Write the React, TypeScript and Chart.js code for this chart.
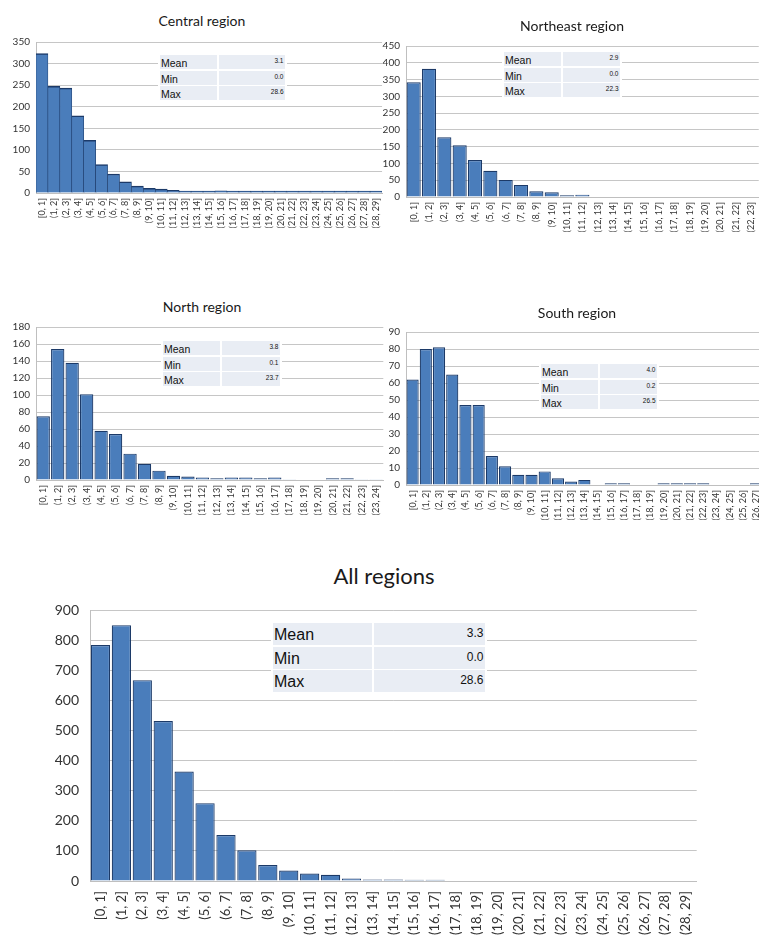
import React, { useEffect, useRef } from "react";
import { Chart, registerables } from "chart.js";

Chart.register(...registerables);

const binLabels = [
  "[0, 1]", "(1, 2]", "(2, 3]", "(3, 4]", "(4, 5]", "(5, 6]", "(6, 7]", "(7, 8]", "(8, 9]", "(9, 10]",
  "(10, 11]", "(11, 12]", "(12, 13]", "(13, 14]", "(14, 15]", "(15, 16]", "(16, 17]", "(17, 18]", "(18, 19]", "(19, 20]",
  "(20, 21]", "(21, 22]", "(22, 23]", "(23, 24]", "(24, 25]", "(25, 26]", "(26, 27]", "(27, 28]", "(28, 29]",
];

const centralValues = [323, 247, 243, 179, 122, 66, 44, 26, 16, 11, 9, 6, 4, 2, 1, 5, 3, 3, 3, 3, 1, 1, 1, 1, 1, 1, 1, 1, 1];
const northeastValues = [342, 382, 178, 154, 110, 78, 51, 36, 17, 14, 5, 7, 0, 0, 0, 0, 0, 0, 0, 0, 0, 0, 0];
const northValues = [75, 154, 138, 101, 58, 54, 31, 19, 11, 5, 4, 3, 2, 3, 3, 2, 3, 1, 0, 0, 2, 2, 1, 1];
const southValues = [62, 80, 81, 65, 47, 47, 17, 11, 6, 6, 8, 4, 2, 3, 0, 1, 1, 0, 0, 1, 1, 1, 1, 0, 0, 0, 1];
const allValues = [785, 851, 668, 532, 364, 259, 153, 102, 53, 35, 25, 21, 8, 5, 5, 4, 4, 0, 0, 0, 0, 0, 0, 0, 0, 0, 0, 0, 0];

const statNames = ["Mean", "Min", "Max"];
const centralStats = ["3.1", "0.0", "28.6"];
const northeastStats = ["2.9", "0.0", "22.3"];
const northStats = ["3.8", "0.1", "23.7"];
const southStats = ["4.0", "0.2", "26.5"];
const allStats = ["3.3", "0.0", "28.6"];

type HistProps = {
  labels: string[];
  values: number[];
  left: number;
  top: number;
  width: number;
  height: number;
  yW: number;
  padTop: number;
  padRight: number;
  xH: number;
  max: number;
  step: number;
  yFont: number;
  xFont: number;
  yPad: number;
  xPad: number;
  barPct: number;
  contiguous?: boolean;
};

function Hist(p: HistProps) {
  const ref = useRef<HTMLCanvasElement>(null);
  useEffect(() => {
    const chart = new Chart(ref.current!, {
      type: "bar",
      data: {
        labels: p.labels,
        datasets: [
          {
            data: p.values,
            backgroundColor: "#4a7dbb",
            borderColor: "#1c3a68",
            borderWidth: p.contiguous ? { top: 1.5, left: 0.6, right: 0.6, bottom: 0 } : 1.2,
            borderSkipped: "bottom",
            barPercentage: p.barPct,
            categoryPercentage: 1,
            minBarLength: p.contiguous ? 2 : 0,
          },
        ],
      },
      options: {
        responsive: false,
        maintainAspectRatio: false,
        animation: false,
        layout: { padding: { top: p.padTop, right: p.padRight, left: 0, bottom: 0 } },
        plugins: {
          legend: { display: false },
          tooltip: { enabled: false },
          title: { display: false },
        },
        scales: {
          x: {
            grid: { display: false, drawTicks: false },
            border: { display: true, color: "#bfbfbf" },
            ticks: {
              autoSkip: false,
              maxRotation: 90,
              minRotation: 90,
              padding: p.xPad,
              color: "#333333",
              font: { family: "Lato", size: p.xFont },
            },
            afterFit: (s: any) => {
              s.height = p.xH;
            },
          },
          y: {
            min: 0,
            max: p.max,
            ticks: {
              stepSize: p.step,
              padding: p.yPad,
              color: "#333333",
              font: { family: "Lato", size: p.yFont },
            },
            grid: { color: "#c6c6c6", drawTicks: false },
            border: { display: true, color: "#bfbfbf" },
            afterFit: (s: any) => {
              s.width = p.yW;
            },
          },
        },
      },
    });
    return () => chart.destroy();
  }, []);
  return (
    <canvas
      ref={ref}
      width={p.width}
      height={p.height}
      style={{ position: "absolute", left: p.left, top: p.top, width: p.width, height: p.height }}
    />
  );
}

type StatsProps = {
  left: number;
  top: number;
  labelW: number;
  valueW: number;
  rowH: number;
  labelFont: number;
  valueFont: number;
  values: string[];
};

function Stats(p: StatsProps) {
  return (
    <div
      style={{
        position: "absolute",
        left: p.left - 2,
        top: p.top - 2,
        padding: 2,
        background: "#ffffff",
        zIndex: 2,
        fontFamily: "'Liberation Sans', Arial, sans-serif",
        color: "#111",
      }}
    >
      {statNames.map((n, i) => (
        <div key={n} style={{ display: "flex", marginTop: i === 0 ? 0 : 1.5 }}>
          <div
            style={{
              width: p.labelW,
              height: p.rowH,
              background: "#e9edf4",
              fontSize: p.labelFont,
              lineHeight: p.rowH + "px",
              paddingLeft: 1,
              boxSizing: "border-box",
              paddingTop: 1,
            }}
          >
            {n}
          </div>
          <div
            style={{
              width: p.valueW,
              height: p.rowH,
              marginLeft: 1.5,
              background: "#e9edf4",
              fontSize: p.valueFont,
              lineHeight: p.rowH - 2 + "px",
              textAlign: "right",
              paddingRight: 1,
              boxSizing: "border-box",
            }}
          >
            {p.values[i]}
          </div>
        </div>
      ))}
    </div>
  );
}

function Title(props: { x: number; y: number; size: number; text: string }) {
  return (
    <div
      style={{
        position: "absolute",
        left: props.x,
        top: props.y,
        transform: "translate(-50%, -50%)",
        fontFamily: "Lato, sans-serif",
        fontSize: props.size,
        color: "#1a1a1a",
        whiteSpace: "nowrap",
        zIndex: 2,
      }}
    >
      {props.text}
    </div>
  );
}

export default function App() {
  return (
    <div
      style={{
        position: "absolute",
        left: 0,
        top: 0,
        width: 759,
        height: 938,
        overflow: "hidden",
        background: "#ffffff",
      }}
    >
      <Hist
        labels={binLabels.slice(0, 29)}
        values={centralValues}
        left={0}
        top={30}
        width={392}
        height={208}
        yW={36}
        padTop={9}
        padRight={6}
        xH={45}
        max={350}
        step={50}
        yFont={10}
        xFont={9}
        yPad={6}
        xPad={5}
        barPct={1}
        contiguous
      />
      <Hist
        labels={binLabels.slice(0, 23)}
        values={northeastValues}
        left={378}
        top={34}
        width={389}
        height={208}
        yW={28}
        padTop={9}
        padRight={6}
        xH={45}
        max={450}
        step={50}
        yFont={10}
        xFont={9}
        yPad={6}
        xPad={5}
        barPct={0.92}
      />
      <Hist
        labels={binLabels.slice(0, 24)}
        values={northValues}
        left={0}
        top={315}
        width={392}
        height={210}
        yW={36}
        padTop={9}
        padRight={6}
        xH={45}
        max={180}
        step={20}
        yFont={10}
        xFont={9}
        yPad={6}
        xPad={5}
        barPct={0.92}
      />
      <Hist
        labels={binLabels.slice(0, 27)}
        values={southValues}
        left={378}
        top={320}
        width={394}
        height={210}
        yW={28}
        padTop={9}
        padRight={6}
        xH={45}
        max={90}
        step={10}
        yFont={10}
        xFont={9}
        yPad={6}
        xPad={5}
        barPct={0.92}
      />
      <Hist
        labels={binLabels.slice(0, 29)}
        values={allValues}
        left={40}
        top={591}
        width={672}
        height={350}
        yW={50}
        padTop={12}
        padRight={10}
        xH={60}
        max={900}
        step={100}
        yFont={14}
        xFont={13}
        yPad={11}
        xPad={10}
        barPct={0.92}
      />

      <Title x={202} y={20} size={14} text="Central region" />
      <Title x={572} y={25} size={14} text="Northeast region" />
      <Title x={202} y={306} size={14} text="North region" />
      <Title x={577} y={312} size={14} text="South region" />
      <Title x={384} y={575} size={22} text="All regions" />

      <Stats left={160} top={55} labelW={57} valueW={66} rowH={14} labelFont={10.5} valueFont={6.5} values={centralStats} />
      <Stats left={504} top={52} labelW={57} valueW={57} rowH={14} labelFont={10.5} valueFont={6.5} values={northeastStats} />
      <Stats left={163} top={341} labelW={57} valueW={58} rowH={14} labelFont={10.5} valueFont={6.5} values={northStats} />
      <Stats left={541} top={364} labelW={57} valueW={57} rowH={14} labelFont={10.5} valueFont={6.5} values={southStats} />
      <Stats left={273} top={623} labelW={99} valueW={111} rowH={22} labelFont={16} valueFont={12} values={allStats} />
    </div>
  );
}
